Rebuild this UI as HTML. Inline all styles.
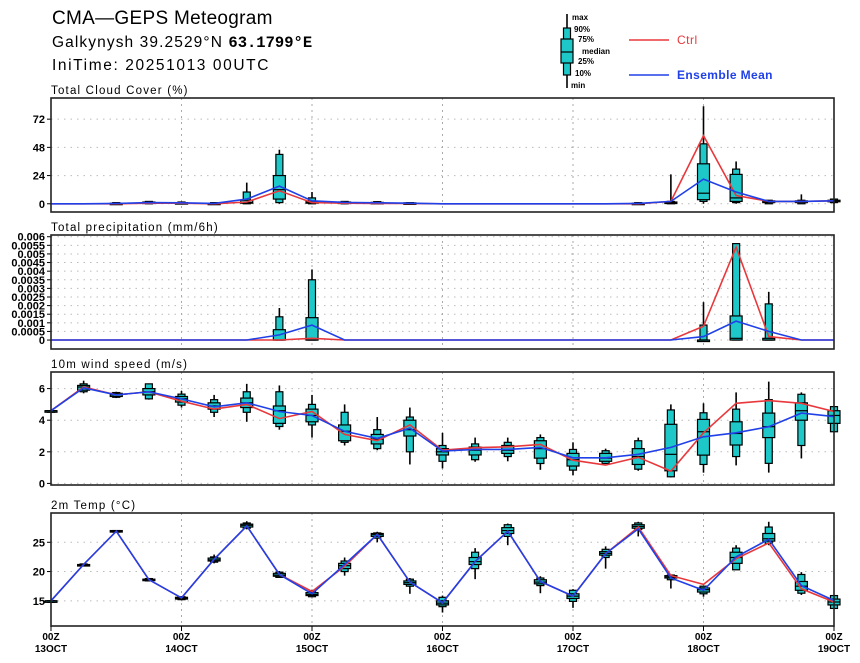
<!DOCTYPE html>
<html><head><meta charset="utf-8">
<style>
html,body{margin:0;padding:0;background:#fff;}
svg{display:block;font-family:"Liberation Sans",sans-serif;}
</style></head>
<body>
<svg id="chart" width="860" height="663" viewBox="0 0 860 663" xmlns="http://www.w3.org/2000/svg">
<text x="52" y="24" font-size="19" letter-spacing="0.3" fill="#000">CMA—GEPS Meteogram</text>
<text x="52" y="47" font-size="15.5" letter-spacing="1.1" fill="#000">Galkynysh 39.2529°N <tspan font-weight="bold" font-family="Liberation Mono" letter-spacing="0">63.1799°E</tspan></text>
<text x="52" y="70" font-size="15.5" letter-spacing="1.6" fill="#000">IniTime: 20251013 00UTC</text>
<g id="legend"></g>
<g id="plots"></g>
</svg>
<script>
const NS="http://www.w3.org/2000/svg";
const svg=document.getElementById('chart');
const plots=document.getElementById('plots');
const legendG=document.getElementById('legend');

// ---- data (25 steps, 6-hourly from 13OCT 00Z) ----
const dayLabels=["13OCT","14OCT","15OCT","16OCT","17OCT","18OCT","19OCT"];

const cloudCtrl=[0,0,0,0.5,0.5,0,1.5,11,1,0.5,0.3,0.2,0,0,0,0,0,0,0,2,58,7,2,2,2.5];
const cloudMean=[0,0,0.3,1,0.8,0.3,4,15,2.5,1.2,0.8,0.5,0,0,0,0,0,0,0.3,2,21,10,2,2,2.5];
const cloudBoxes=[null,null,[0,0,0,0,0.5,1,1],[0,0,0.5,1,1.5,2,2],[0,0,0,0.5,1,1.5,2],[0,0,0,0,0.5,1,1],
[0,0,0.5,1,3,10,18],[0,1,4,12,24,42,46],[0,0,0.5,1,2,5,10],[0,0,0.5,1,1.5,2,2],[0,0,0.3,0.8,1.2,1.8,2],[0,0,0,0.3,0.8,1,1],
null,null,null,null,null,null,[0,0,0,0,0.5,1,1],[0,0,0.5,1,1.5,2,25],[0,2,3.5,9,34,51,83],[0,1,2,5,25,29.5,36],[0,0,1,2,2.5,3,3],[0,0,1,2,2.5,3,8],[0,1,2,2.5,3,4,4]];
const cloudTicks=[0,24,48,72];

const precCtrl=[0,0,0,0,0,0,0,0,0.0001,0,0,0,0,0,0,0,0,0,0,0,0.0008,0.0054,0.0002,0,0];
const precMean=[0,0,0,0,0,0,0,0.0003,0.00087,0,0,0,0,0,0,0,0,0,0,0,0.0002,0.0011,0.0005,0,0];
const precBoxes=[null,null,null,null,null,null,null,[0,0,0,0,0.0006,0.00135,0.00186],[0,0,0,0,0.0013,0.0035,0.0041],
null,null,null,null,null,null,null,null,null,null,null,[0,0,0,0,0,0.00087,0.0022],[0,0,0,0.0001,0.0014,0.0056,0.0056],[0,0,0,0,0.0001,0.0021,0.0028],null,null];
const precTicks=[0,0.0005,0.001,0.0015,0.002,0.0025,0.003,0.0035,0.004,0.0045,0.005,0.0055,0.006];

const windCtrl=[4.6,6.1,5.6,5.8,5.2,4.7,5.0,4.1,4.55,3.1,2.7,3.7,2.1,2.26,2.32,2.47,1.47,1.16,1.65,0.78,3.2,5.07,5.24,5.07,4.55];
const windMean=[4.6,6.05,5.6,5.8,5.35,4.85,5.1,4.55,4.3,3.3,2.85,3.5,2.05,2.15,2.15,2.28,1.62,1.62,1.84,2.28,2.95,3.2,3.59,4.45,4.23];
const windBoxes=[[4.6,4.6,4.6,4.6,4.6,4.6,4.6],[5.7,5.8,5.9,6.1,6.2,6.3,6.5],[5.4,5.45,5.5,5.6,5.7,5.75,5.8],[5.3,5.35,5.6,5.8,6.0,6.3,6.3],
[4.8,4.95,5.15,5.35,5.5,5.65,5.85],[4.2,4.5,4.7,4.9,5.1,5.3,5.6],[3.9,4.5,4.8,5.1,5.4,5.8,6.3],[3.4,3.6,3.8,4.6,4.9,5.8,6.2],
[2.9,3.7,3.9,4.3,4.7,5.0,5.6],[2.4,2.6,2.7,3.3,3.7,4.5,5.0],[2.1,2.2,2.5,2.8,3.1,3.4,4.2],[1.2,2.0,3.0,3.4,4.0,4.2,4.8],
[0.95,1.4,1.8,2.0,2.2,2.4,3.2],[1.37,1.5,1.8,2.1,2.3,2.5,2.9],[1.4,1.7,1.9,2.1,2.4,2.6,2.9],[0.86,1.26,1.6,2.2,2.7,2.9,3.1],
[0.52,0.84,1.1,1.5,1.9,2.15,2.6],[1.26,1.26,1.4,1.6,1.9,2.07,2.2],[0.8,0.9,1.2,1.7,2.2,2.7,2.9],[0.38,0.42,0.8,1.84,3.74,4.65,5.0],
[0.68,1.2,1.79,3.27,4.05,4.47,5.07],[1.14,1.7,2.43,3.16,3.9,4.7,5.76],[0.68,1.27,2.9,3.59,4.45,5.3,6.44],[1.58,2.4,4.0,4.6,5.1,5.64,5.76],[3.27,3.27,3.8,4.3,4.6,4.86,4.86]];
const windTicks=[0,2,4,6];

const tempCtrl=[15,21.2,26.9,18.6,15.5,22.1,27.8,19.5,16.6,20.9,26.35,18.2,14.66,21.7,26.9,18.3,15.8,23.05,27.6,19.3,17.8,22.2,24.9,17.05,14.8];
const tempMean=[15,21.2,26.9,18.6,15.5,22.1,27.8,19.5,16.2,21.2,26.35,18.2,14.66,21.7,26.9,18.3,15.8,23.05,27.3,18.9,16.8,22.5,25.5,17.6,15.05];
const tempBoxes=[[15,15,15,15,15,15,15],[20.9,21,21,21.1,21.2,21.3,21.3],[26.7,26.8,26.8,26.9,27,27,27],[18.3,18.4,18.5,18.6,18.7,18.8,18.9],
[15.1,15.2,15.3,15.5,15.6,15.7,15.8],[21.4,21.6,21.8,22,22.3,22.5,22.9],[27.2,27.4,27.6,27.9,28.1,28.3,28.6],[18.9,19.0,19.2,19.4,19.7,19.9,20.1],
[15.6,15.7,15.9,16.1,16.4,16.6,16.9],[19.3,20.0,20.5,21,21.4,21.8,22.4],[25,25.7,26,26.3,26.5,26.6,26.8],[16.2,17.5,17.8,18.1,18.4,18.7,18.9],
[13,14,14.3,14.6,15.0,15.6,15.9],[18.7,20.5,21.2,21.7,22.4,23.3,24.0],[24.5,26,26.5,27,27.5,28,28.2],[16.3,17.6,17.9,18.2,18.6,18.9,19.2],
[13.8,14.9,15.4,15.8,16.2,16.8,17.0],[20.5,22.4,22.8,23.1,23.4,23.8,24.3],[26.0,27.2,27.4,27.7,28,28.3,28.5],[17.1,18.6,18.9,19.1,19.3,19.4,19.5],
[15.7,16.2,16.5,16.9,17.2,17.5,17.6],[20.3,20.3,21.4,22.4,23.3,24,24.5],[24.5,24.8,25.2,25.6,26.5,27.6,28.5],[16,16.3,16.8,17.5,18.3,19.5,19.9],[13.7,13.7,14.3,14.8,15.3,15.9,15.9]];
const tempTicks=[15,20,25];

// ---- layout ----
const X0=51, X1=834, NSTEP=24;
function xs(i){return X0+(X1-X0)*i/NSTEP;}
const TEAL="#1ec8c8", RED="#e8383c", BLUE="#2040e8";

function el(tag,attrs,parent){const e=document.createElementNS(NS,tag);for(const k in attrs)e.setAttribute(k,attrs[k]);(parent||plots).appendChild(e);return e;}

function panel(key,title,top,bot,vmin,vmax,ticks,ctrl,mean,boxes,fmt){
  const g=el('g',{});
  
  
  const ys=v=>bot-(v-vmin)/(vmax-vmin)*(bot-top);
  const t=el('text',{x:X0,y:top-4,'font-size':11.5,'letter-spacing':1.2,fill:'#000'},g);t.textContent=title;
  
  
  for(const v of ticks){
    const y=ys(v);
    const gl=el('line',{x1:X0,x2:X1,y1:y,y2:y,stroke:'#bbb','stroke-width':1,'stroke-dasharray':'1.5,5'},g);
    
    
    el('line',{x1:X0-4,x2:X0,y1:y,y2:y,stroke:'#000','stroke-width':1},g);
    const lb=el('text',{x:X0-6,y:y+4,'font-size':11,'font-weight':'bold','text-anchor':'end',fill:'#000'},g);
    lb.textContent=fmt(v);
    
    
  }
  for(let d=1;d<6;d++){
    const x=xs(d*4);
    el('line',{x1:x,x2:x,y1:top,y2:bot,stroke:'#aaa','stroke-width':1,'stroke-dasharray':'2,4'},g);
  }
  boxes.forEach((b,i)=>{
    if(!b)return;
    const x=xs(i);
    const bg=el('g',{},g);
    
    
    el('line',{x1:x,x2:x,y1:ys(b[0]),y2:ys(b[6]),stroke:'#000','stroke-width':1.6},bg);
    el('rect',{x:x-3.5,y:ys(b[5]),width:7,height:Math.max(ys(b[1])-ys(b[5]),1.5),fill:TEAL,stroke:'#000','stroke-width':1.2},bg);
    el('rect',{x:x-6,y:ys(b[4]),width:12,height:Math.max(ys(b[2])-ys(b[4]),1.5),fill:TEAL,stroke:'#000','stroke-width':1.2},bg);
    el('line',{x1:x-6,x2:x+6,y1:ys(b[3]),y2:ys(b[3]),stroke:'#000','stroke-width':1.2},bg);
  });
  const pts=a=>a.map((v,i)=>xs(i).toFixed(1)+','+ys(v).toFixed(1)).join(' ');
  const rl=el('polyline',{points:pts(ctrl),fill:'none',stroke:RED,'stroke-width':1.6},g);
  
  
  const bl=el('polyline',{points:pts(mean),fill:'none',stroke:BLUE,'stroke-width':1.6},g);
  
  
  const fr=el('rect',{x:X0,y:top,width:X1-X0,height:bot-top,fill:'none',stroke:'#222','stroke-width':1.6},g);
  
  
}

panel('cloud-cover','Total Cloud Cover (%)',98,212,-7,90,cloudTicks,cloudCtrl,cloudMean,cloudBoxes,v=>String(v));
panel('precipitation','Total precipitation (mm/6h)',235,349,-0.00052,0.0061,precTicks,precCtrl,precMean,precBoxes,v=>v===0?'0':String(+v.toFixed(4)));
panel('wind-speed','10m wind speed (m/s)',372,485,-0.1,7.05,windTicks,windCtrl,windMean,windBoxes,v=>String(v));
panel('temperature','2m Temp (°C)',513,626,10.7,30,tempTicks,tempCtrl,tempMean,tempBoxes,v=>String(v));

dayLabels.forEach((d,k)=>{
  const x=xs(k*4);
  el('line',{x1:x,x2:x,y1:626,y2:631,stroke:'#000','stroke-width':1});
  const a=el('text',{x:x,y:640,'font-size':10,'font-weight':'bold','text-anchor':'middle',fill:'#000'});
  a.textContent='00Z';
  
  
  const b=el('text',{x:x,y:652,'font-size':10,'font-weight':'bold','text-anchor':'middle',fill:'#000'});
  b.textContent=d;
  
  
});

(function(){
  const x=567;
  el('line',{x1:x,x2:x,y1:14,y2:88,stroke:'#000','stroke-width':1.6},legendG);
  el('rect',{x:x-3.5,y:28,width:7,height:47,fill:TEAL,stroke:'#000','stroke-width':1.2},legendG);
  el('rect',{x:x-6,y:39,width:12,height:24,fill:TEAL,stroke:'#000','stroke-width':1.2},legendG);
  el('line',{x1:x-6,x2:x+6,y1:52,y2:52,stroke:'#000','stroke-width':1.2},legendG);
  const labs=[["max",572,20],["90%",574,32],["75%",578,42],["median",582,54],["25%",578,64],["10%",575,76],["min",571,88]];
  labs.forEach(l=>{const t=el('text',{x:l[1],y:l[2],'font-size':8,'font-weight':'bold',fill:'#000'},legendG);t.textContent=l[0];
    
    });
  el('line',{x1:629,x2:669,y1:40,y2:40,stroke:RED,'stroke-width':1.6},legendG);
  const c=el('text',{x:677,y:44,'font-size':12,'letter-spacing':0.5,fill:RED},legendG);c.textContent='Ctrl';
  
  
  el('line',{x1:629,x2:669,y1:75,y2:75,stroke:BLUE,'stroke-width':1.6},legendG);
  const m=el('text',{x:677,y:79,'font-size':12,'font-weight':'bold','letter-spacing':0.4,fill:BLUE},legendG);m.textContent='Ensemble Mean';
  
  
})();
</script>
</body></html>
